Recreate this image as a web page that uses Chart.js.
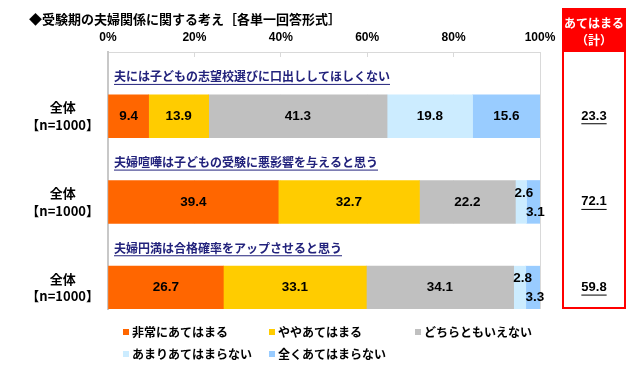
<!DOCTYPE html>
<html><head><meta charset="utf-8">
<script src="https://cdn.jsdelivr.net/npm/chart.js@4.4.1/dist/chart.umd.min.js"></script>
<style>html,body{margin:0;padding:0;background:#fff;}canvas{display:block;}</style>
</head><body>
<canvas id="c" width="640" height="367"></canvas>
<script>
const title = '◆受験期の夫婦関係に関する考え［各単一回答形式］';
const questions = ['夫には子どもの志望校選びに口出ししてほしくない','夫婦喧嘩は子どもの受験に悪影響を与えると思う','夫婦円満は合格確率をアップさせると思う'];
const groupLabel = ['全体','【n=1000】'];
const seriesNames = ['非常にあてはまる','ややあてはまる','どちらともいえない','あまりあてはまらない','全くあてはまらない'];
const veryTrue = [9.4, 39.4, 26.7];
const somewhatTrue = [13.9, 32.7, 33.1];
const neither = [41.3, 22.2, 34.1];
const notReally = [19.8, 2.6, 2.8];
const notAtAll = [15.6, 3.1, 3.3];
const totals = [23.3, 72.1, 59.8];
const totalHeader = ['あてはまる','（計）'];
const xTicks = [0, 20, 40, 60, 80, 100];
const colors = ['#FF6600','#FFCC00','#C0C0C0','#CCECFF','#99CCFF'];

const JP = '"Noto Sans CJK JP", "Noto Sans", sans-serif';
const NUM = '"Liberation Sans", Arial, sans-serif';

// Build interleaved rows: question row (empty) + data row
const rowLabels = [];
questions.forEach(() => { rowLabels.push(''); rowLabels.push(groupLabel); });
function rows(vals) { const r = []; vals.forEach(v => { r.push(null); r.push(v); }); return r; }
const seriesVals = [veryTrue, somewhatTrue, neither, notReally, notAtAll];

const deco = {
  id: 'deco',
  beforeDatasetsDraw(chart) {
    const {ctx, chartArea: a, scales: {y}} = chart;
    const h = Math.abs(y.getPixelForValue(1) - y.getPixelForValue(0));
    ctx.save();
    ctx.fillStyle = '#fff';
    questions.forEach((q, i) => {
      const yc = y.getPixelForValue(i * 2);
      const top = i === 0 ? yc - h / 2 + 5 : yc - h / 2;
      ctx.fillRect(a.left + 1.5, top, a.right - a.left - 3, yc + h / 2 - top);
    });
    ctx.restore();
  },
  afterDatasetsDraw(chart) {
    const {ctx, scales: {y}} = chart;
    ctx.save();
    // question texts
    ctx.font = 'bold 12px ' + JP;
    ctx.fillStyle = '#22227C';
    ctx.strokeStyle = '#22227C';
    ctx.textBaseline = 'middle';
    ctx.textAlign = 'left';
    questions.forEach((q, i) => {
      const yc = y.getPixelForValue(i * 2) + 3.5;
      ctx.fillText(q, 114, yc);
      const w = ctx.measureText(q).width;
      ctx.lineWidth = 1;
      ctx.beginPath(); ctx.moveTo(114, yc + 7.5); ctx.lineTo(114 + w, yc + 7.5); ctx.stroke();
    });
    // value labels
    ctx.font = 'bold 13.5px ' + NUM;
    ctx.fillStyle = '#000';
    ctx.textAlign = 'center';
    chart.data.datasets.forEach((ds, d) => {
      const meta = chart.getDatasetMeta(d);
      meta.data.forEach((el, r) => {
        const v = ds.data[r];
        if (v === null || v === undefined) return;
        const p = el.getProps(['x', 'base', 'y'], true);
        let cx = (p.x + p.base) / 2, cy = p.y;
        if (v < 5) {
          if (d === 3) { cx += 3; cy -= 9; }
          else if (d === 4) { cx += 2; cy += 10; }
        }
        ctx.fillText(String(v), cx, cy);
      });
    });
    ctx.restore();
  },
  afterDraw(chart) {
    const {ctx, scales: {y}} = chart;
    ctx.save();
    // title
    ctx.font = 'bold 13px ' + JP;
    ctx.fillStyle = '#000';
    ctx.textBaseline = 'middle';
    ctx.textAlign = 'left';
    ctx.fillText(title, 29, 19);
    // red total box
    ctx.fillStyle = '#FF0000';
    ctx.fillRect(562, 8, 64, 43);
    ctx.strokeStyle = '#FF0000';
    ctx.lineWidth = 2;
    ctx.strokeRect(563, 51, 62, 257);
    ctx.fillStyle = '#fff';
    ctx.textAlign = 'center';
    ctx.font = 'bold 12px ' + JP;
    ctx.fillText(totalHeader[0], 594, 23);
    ctx.fillText(totalHeader[1], 594, 40);
    ctx.fillStyle = '#000';
    ctx.strokeStyle = '#000';
    ctx.font = 'bold 13px ' + NUM;
    totals.forEach((t, i) => {
      const yc = y.getPixelForValue(i * 2 + 1);
      const s = t.toFixed(1);
      ctx.fillText(s, 594, yc);
      const w = ctx.measureText(s).width;
      ctx.lineWidth = 1;
      ctx.beginPath(); ctx.moveTo(594 - w / 2, yc + 7.5); ctx.lineTo(594 + w / 2, yc + 7.5); ctx.stroke();
    });
    // legend
    const cols = [123, 269, 415];
    const rowsY = [332, 354];
    ctx.font = 'bold 12px ' + JP;
    ctx.textAlign = 'left';
    chart.data.datasets.forEach((ds, d) => {
      const cx = cols[d % 3], cy = rowsY[Math.floor(d / 3)];
      ctx.fillStyle = ds.backgroundColor;
      ctx.fillRect(cx, cy - 3, 6, 6);
      ctx.fillStyle = '#000';
      ctx.fillText(ds.label, cx + 9, cy);
    });
    ctx.restore();
  }
};

new Chart(document.getElementById('c'), {
  type: 'bar',
  data: {
    labels: rowLabels,
    datasets: seriesNames.map((n, i) => ({
      label: n,
      data: rows(seriesVals[i]),
      backgroundColor: colors[i],
      borderWidth: 0,
      barPercentage: 1,
      categoryPercentage: 1
    }))
  },
  options: {
    indexAxis: 'y',
    responsive: false,
    animation: false,
    devicePixelRatio: 1,
    layout: { padding: { top: 0, left: 0, right: 100, bottom: 58 } },
    plugins: { legend: { display: false }, tooltip: { enabled: false } },
    scales: {
      x: {
        position: 'top', stacked: true, min: 0, max: 100,
        afterBuildTicks(s) { s.ticks = xTicks.map(v => ({ value: v })); },
        afterFit(s) { s.height = 52; },
        grid: { color: '#D9D9D9', drawTicks: false },
        border: { display: true, color: '#D9D9D9' },
        ticks: { padding: 7, color: '#000', font: { family: NUM, weight: 'bold', size: 12 }, callback: v => v + '%' }
      },
      y: {
        stacked: true,
        afterFit(s) { s.width = 108; },
        grid: { display: false, drawTicks: false },
        border: { display: true, color: '#C8C8C8', width: 2 },
        ticks: { crossAlign: 'center', padding: 9, color: '#000', autoSkip: false, font: { family: JP, weight: 'bold', size: 13, lineHeight: 1.35 } }
      }
    }
  },
  plugins: [deco]
});
</script>
</body></html>
